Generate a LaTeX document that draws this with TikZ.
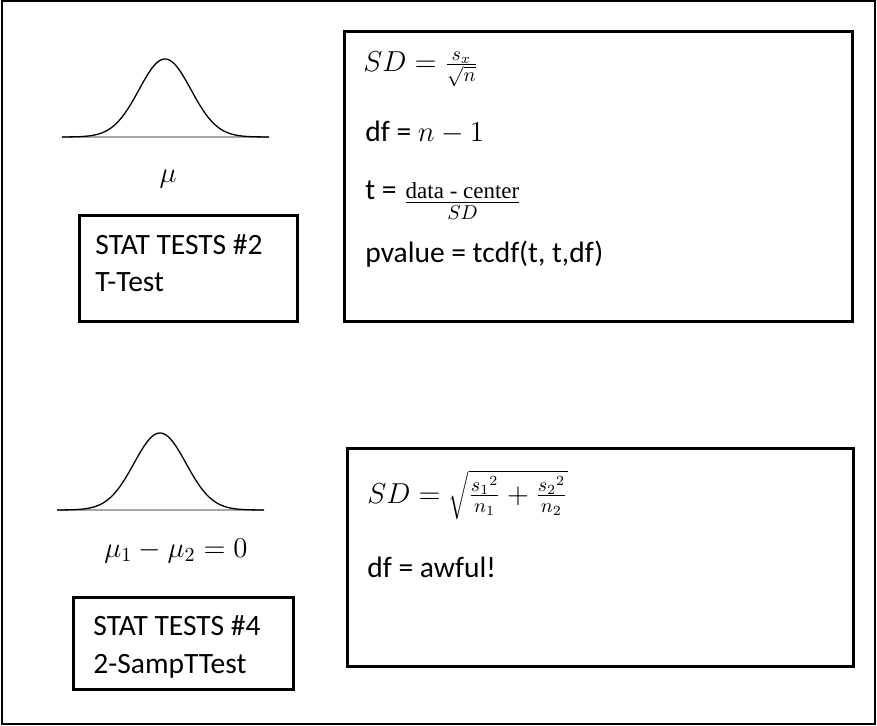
\documentclass[tikz,border=0pt]{standalone}
\usepackage{fontspec}
\setmainfont{Carlito}
\newfontfamily\serifT{Liberation Serif}
\begin{document}
\begin{tikzpicture}[x=0.5pt,y=-0.5pt,
  frame/.style={draw, line width=1pt},
  box/.style={draw, line width=1.3pt, inner sep=0pt, anchor=north west},
  txt/.style={anchor=base west, inner sep=0pt, font=\fontsize{14.75}{18}\selectfont},
  lbl/.style={anchor=base, inner sep=0pt, font=\fontsize{14.75}{18}\selectfont},
  axisline/.style={draw=gray!70, line width=0.6pt},
  bell/.style={draw=black, line width=0.65pt}]
\useasboundingbox (0,0) rectangle (877,726);
\draw[frame] (2,1) rectangle (875,724);

% boxes
\node[box, minimum width=109pt, minimum height=53pt] (b1) at (78,214) {};
\node[box, minimum width=254pt, minimum height=145pt] (b2) at (343,30) {};
\node[box, minimum width=110pt, minimum height=46pt] (b3) at (72,596) {};
\node[box, minimum width=253pt, minimum height=109pt] (b4) at (346,447) {};

% top bell curve
\draw[axisline] (62,137) -- (269,137);
\draw[bell, domain=-103:104, samples=120, smooth] plot ({165+\x}, {137-78*exp(-0.5*(\x/26)^2)});
\node[lbl] (m1) at (168,183) {$\mu$};

% bottom bell curve
\draw[axisline] (57,510) -- (264,510);
\draw[bell, domain=-103:104, samples=120, smooth] plot ({160+\x}, {510-77*exp(-0.5*(\x/26)^2)});
\node[lbl] (m2) at (176,557) {$\mu_1-\mu_2=0$};

% box texts
\node[txt] (t1a) at (95,255) {STAT TESTS \#2};
\node[txt] (t1b) at (95,292) {T-Test};
\node[txt] (t3a) at (93,635) {STAT TESTS \#4};
\node[txt] (t3b) at (93,673) {2-SampTTest};

\node[txt] (f1) at (363,72) {$SD=\frac{s_x}{\sqrt{n}}$};
\node[txt] (f2) at (365,142) {df = $n-1$};
\node[txt] (f3) at (365,200) {t = \raisebox{-5pt}{$\frac{\mbox{\fontsize{11.5}{12}\serifT data - center}}{SD}$}};
\node[txt] (f4) at (365,263) {pvalue = tcdf(t, t,df)};

\node[txt] (g1) at (367,503) {$SD=\sqrt{\frac{{s_1}^2}{n_1}+\frac{{s_2}^2}{n_2}}$};
\node[txt] (g2) at (367,577) {df = awful!};
\end{tikzpicture}
\end{document}
